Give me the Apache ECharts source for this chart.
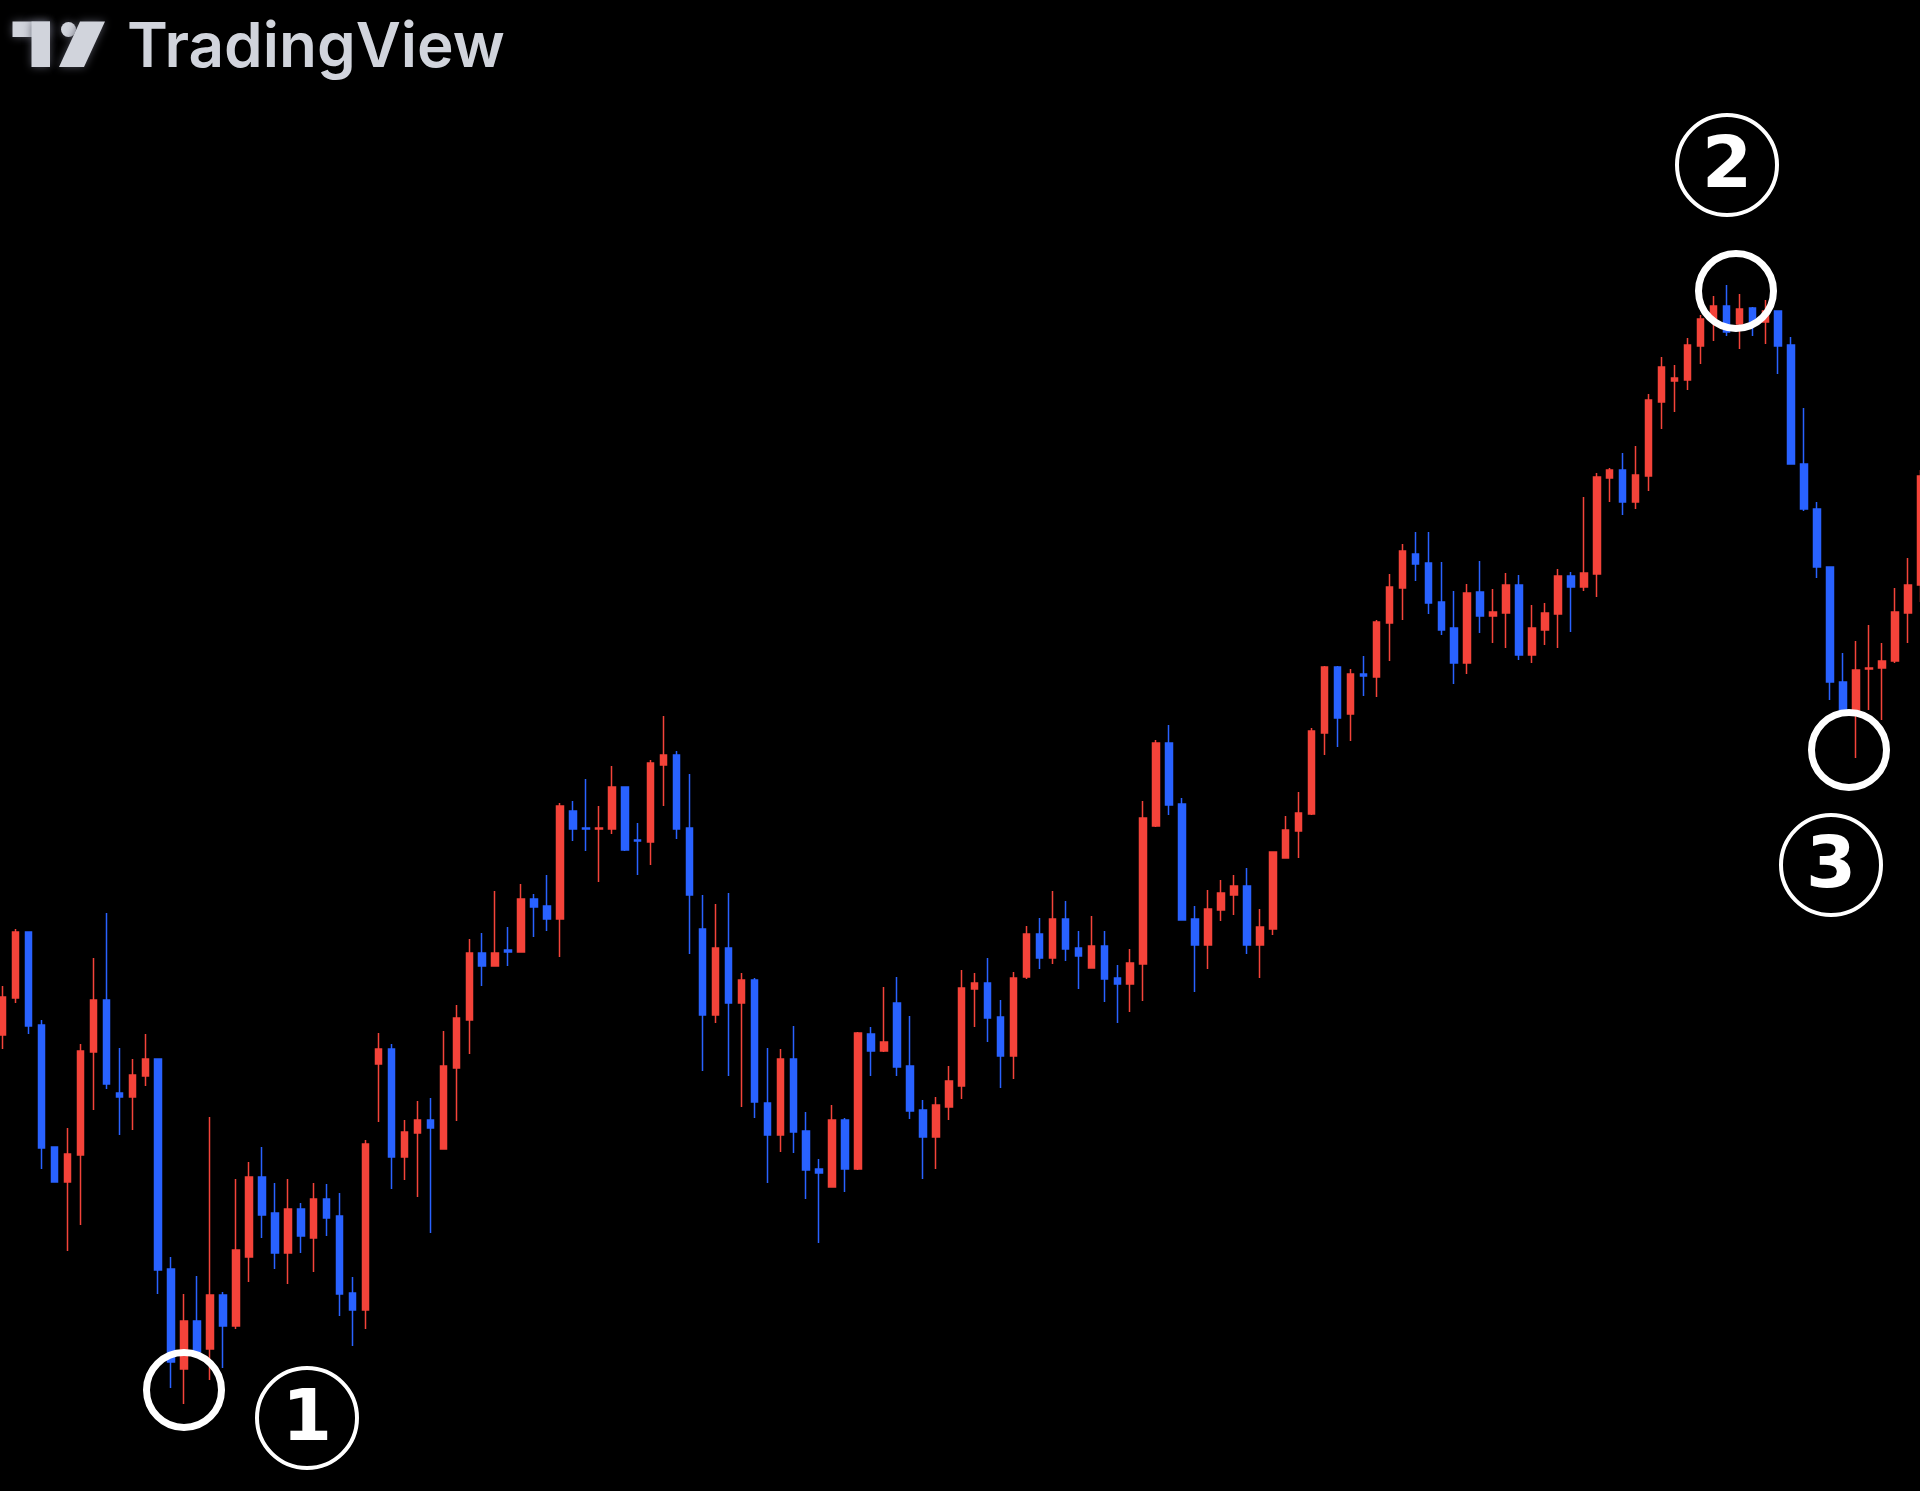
<!DOCTYPE html>
<html>
<head>
<meta charset="utf-8">
<script src="https://cdn.jsdelivr.net/npm/echarts@6/dist/echarts.min.js"></script>
<style>
html,body{margin:0;padding:0;background:#000;}
#chart{width:1920px;height:1491px;}
</style>
</head>
<body>
<div id="chart"></div>
<script>
// OHLC values (arbitrary price units)
const opens = [
46.5,50.2,56.8,47.5,35.3,31.8,34.5,44.8,50.0,40.7,
40.3,42.4,44.1,23.1,13.1,17.9,15.1,20.5,17.4,24.3,
32.3,28.7,24.7,29.1,26.2,30.1,28.4,20.7,19.0,43.6,
45.1,34.3,36.7,38.0,35.1,43.2,48.0,54.7,53.4,55.0,
54.8,60.1,59.4,58.1,68.9,67.2,67.1,67.1,71.3,66.0,
65.8,73.5,74.5,67.2,57.1,48.5,55.2,49.7,52.0,39.7,
36.5,44.1,36.9,33.1,31.3,38.0,33.1,46.6,44.9,49.7,
43.4,39.0,36.3,39.3,41.4,51.1,51.7,48.3,44.4,52.3,
56.6,54.2,58.1,55.2,53.2,55.4,52.2,51.6,53.6,67.4,
75.7,69.6,58.1,55.5,59.0,60.5,61.4,55.5,57.1,64.2,
66.9,68.6,76.7,83.3,78.6,82.6,82.3,87.7,91.2,94.6,
93.7,89.8,87.2,83.7,90.8,88.4,88.7,91.5,84.5,87.0,
88.6,92.4,91.3,92.6,102.2,103.0,99.8,102.4,109.8,111.9,
112.0,115.4,117.9,119.4,117.6,119.2,117.8,118.9,115.5,103.6,
99.1,93.3,81.8,78.8,83.1,83.2,83.9,88.7,91.5
];
const closes = [
50.3,56.8,47.4,35.2,31.8,34.6,44.9,50.0,41.6,40.3,
42.5,44.1,23.0,13.8,17.9,14.8,20.5,17.4,25.0,32.3,
28.5,24.7,29.1,26.4,30.1,28.2,20.6,19.0,35.6,45.1,
34.3,36.8,38.0,37.2,43.4,48.2,54.7,53.4,54.7,54.8,
60.1,59.3,58.1,69.4,67.1,67.1,67.2,71.3,65.0,65.9,
73.7,74.5,67.1,60.5,48.5,55.2,49.7,52.0,39.8,36.5,
44.1,36.8,33.0,32.7,38.0,33.1,46.7,44.9,45.8,43.3,
38.9,36.3,39.5,41.9,51.2,51.7,48.2,44.4,52.2,56.6,
54.2,58.1,55.1,54.4,55.4,52.1,51.6,53.7,68.2,75.7,
69.5,58.0,55.5,59.1,60.7,61.4,55.5,57.3,64.8,67.0,
68.7,76.9,83.3,78.2,82.6,82.4,87.8,91.3,94.9,93.6,
89.7,87.0,83.7,90.7,88.4,88.8,91.5,84.5,87.2,88.7,
92.4,91.3,92.7,102.3,103.0,99.8,102.5,110.0,113.3,112.2,
115.5,118.1,119.4,116.8,119.1,117.6,118.9,115.4,103.6,99.1,
93.3,81.8,78.8,83.0,83.2,83.9,88.8,91.5,102.4
];
const lows = [
45.1,49.7,46.6,33.1,31.8,24.9,27.5,39.0,41.1,36.5,
37.0,41.4,20.6,11.2,9.6,14.5,12.0,13.2,17.1,21.8,
26.2,23.1,21.6,24.7,22.8,26.4,18.4,15.4,17.1,37.8,
31.1,32.0,30.3,26.7,35.1,37.9,44.6,51.4,53.4,53.4,
54.8,56.3,56.9,54.3,65.9,64.9,61.8,66.6,64.9,62.5,
63.5,69.4,66.1,54.6,42.9,47.7,42.4,39.3,38.2,31.7,
34.8,34.7,30.1,25.7,31.3,30.8,33.0,42.4,44.8,42.4,
38.1,32.1,33.1,38.0,40.1,47.3,45.8,41.2,42.1,52.1,
53.1,53.6,53.9,51.1,53.2,49.8,47.7,48.8,49.9,67.3,
68.5,58.0,50.8,53.1,57.9,58.5,54.6,52.2,56.5,64.2,
64.2,68.5,74.5,75.3,75.9,80.4,80.3,83.9,88.0,91.9,
88.6,86.5,81.6,82.6,86.7,85.7,85.2,84.0,83.7,85.5,
85.2,86.8,90.9,90.3,99.8,98.5,99.1,100.9,107.1,108.8,
111.0,113.6,115.9,116.4,115.1,116.4,115.6,112.6,103.6,98.9,
92.2,80.0,78.5,74.2,79.0,78.0,83.7,85.7,89.8
];
const highs = [
51.4,57.1,56.8,48.0,35.3,37.2,45.6,54.2,58.7,45.2,
44.1,46.6,44.1,24.3,20.6,22.4,38.3,20.8,32.1,33.8,
35.3,31.7,32.1,29.7,31.7,31.6,30.7,22.3,36.0,46.7,
45.6,38.0,39.9,40.2,46.9,49.5,56.1,56.7,60.9,57.3,
61.6,60.6,62.5,69.7,69.9,72.1,69.4,73.4,71.3,67.7,
74.0,78.4,74.9,72.6,60.5,59.6,60.7,52.7,52.2,45.2,
45.1,47.4,38.8,34.1,39.5,38.2,46.8,47.3,51.3,52.3,
48.4,40.0,40.3,43.4,53.0,52.7,54.2,50.0,52.8,57.4,
58.2,60.9,59.9,56.9,58.4,56.9,53.5,55.1,69.9,76.0,
77.5,70.2,59.4,61.0,62.0,62.5,63.2,59.1,64.8,68.4,
70.8,77.2,83.4,83.4,83.1,84.4,88.0,92.6,95.6,96.8,
96.8,93.8,90.9,91.6,93.9,91.1,92.7,92.5,89.5,89.7,
93.1,92.8,100.3,102.7,103.2,104.7,105.4,110.6,114.3,113.5,
116.2,118.5,120.4,121.5,120.6,119.3,120.0,118.9,116.3,109.2,
99.8,93.3,84.7,85.9,87.5,85.7,91.2,94.2,103.0
];
// bar positions (sequence index of each candle)
const barIndex = opens.map((_, i) => i);
const markerLabels = ['1', '2', '3'];

const RED = '#f4433a';
const BLUE = '#2962ff';

const chart = echarts.init(document.getElementById('chart'), null, {renderer: 'canvas', width: 1920, height: 1491});
const candleData = barIndex.map(i => [i, opens[i], closes[i], lows[i], highs[i]]);

function ring(cx, cy, r, lw) {
  return {type: 'circle', z: 100, shape: {cx: cx, cy: cy, r: r},
          style: {fill: 'transparent', stroke: '#ffffff', lineWidth: lw}};
}
function label(cx, cy, txt) {
  return [ring(cx, cy, 50, 4),
    {type: 'text', z: 101, x: cx, y: cy + 3,
     style: {text: txt, fill: '#ffffff', font: '800 72px "DejaVu Sans", sans-serif',
             align: 'center', verticalAlign: 'middle'}}];
}
const logoFill = '#d1d4dc';
const glow = {shadowBlur: 8, shadowColor: 'rgba(90,92,104,0.85)'};

const graphics = [
  ring(184, 1390, 37.5, 7),
  ...label(307, 1418, markerLabels[0]),
  ring(1736, 291, 37.5, 7),
  ...label(1727, 165, markerLabels[1]),
  ring(1849, 750, 37.5, 7),
  ...label(1831, 865, markerLabels[2]),
  // TradingView logo
  {type: 'rect', z: 100, shape: {x: 12.5, y: 21.5, width: 37.5, height: 15.5}, style: Object.assign({fill: logoFill}, glow)},
  {type: 'rect', z: 100, shape: {x: 31.5, y: 21.5, width: 18.5, height: 45.5}, style: Object.assign({fill: logoFill}, glow)},
  {type: 'circle', z: 100, shape: {cx: 68.5, cy: 29.5, r: 7.5}, style: Object.assign({fill: logoFill}, glow)},
  {type: 'polygon', z: 100, shape: {points: [[80, 21.5], [105, 21.5], [84, 67], [59, 67]]}, style: Object.assign({fill: logoFill}, glow)},
  {type: 'text', z: 100, x: 127, y: 48,
   style: Object.assign({text: 'TradingView', fill: logoFill, font: '600 62px Inter, sans-serif',
          align: 'left', verticalAlign: 'middle'}, glow)}
];

chart.setOption({
  backgroundColor: '#000000',
  animation: false,
  grid: {left: 0, right: 0, top: 0, bottom: 0, containLabel: false},
  xAxis: {type: 'value', min: -0.2083, max: 147.94, show: false, splitLine: {show: false}},
  yAxis: {type: 'value', min: 0.9, max: 150, show: false, splitLine: {show: false}},
  series: [{
    type: 'candlestick',
    data: candleData,
    barWidth: 7,
    itemStyle: {color: RED, color0: BLUE, borderColor: RED, borderColor0: BLUE, borderWidth: 1.5}
  }],
  graphic: graphics
});
</script>
</body>
</html>
